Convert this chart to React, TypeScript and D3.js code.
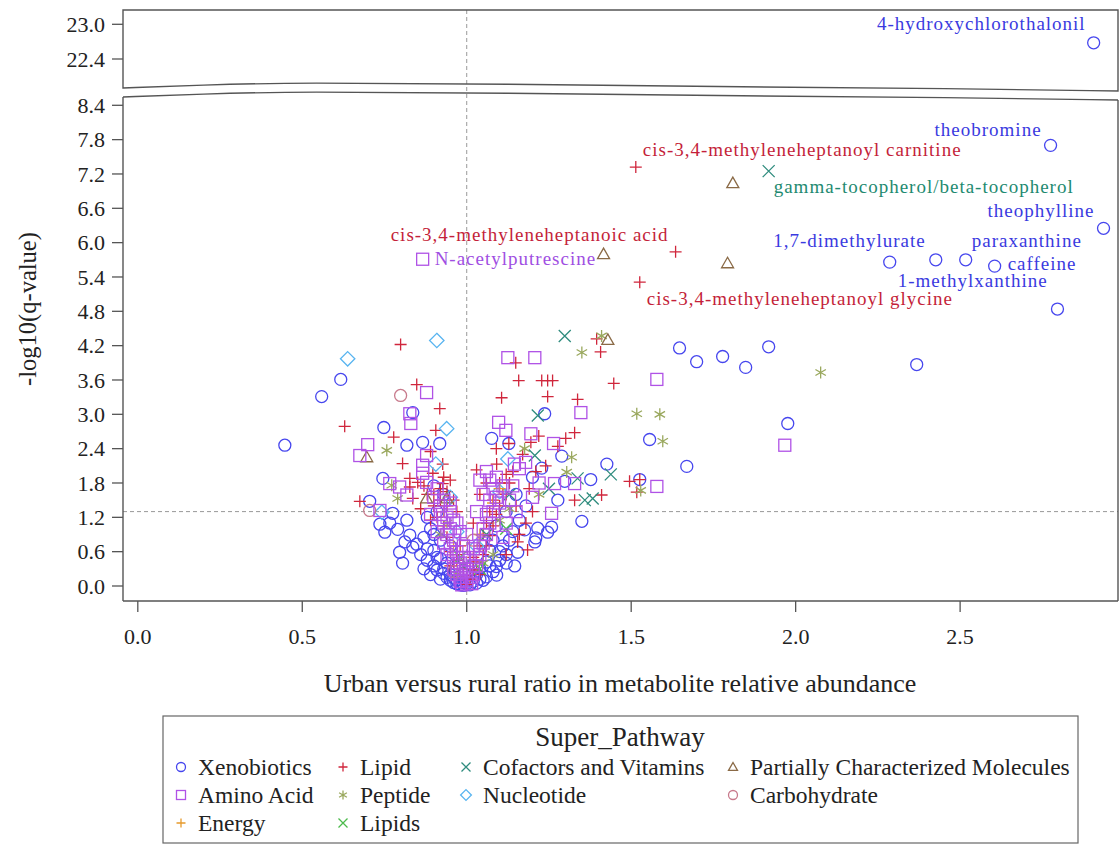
import React from "react";
import * as d3 from "d3";

// ratio (urban / rural), -log10(q)
const xenobiotics: [number, number][] = [
  [2.906, 22.68], [2.775, 7.7], [2.936, 6.25], [2.286, 5.66], [2.426, 5.7], [2.517, 5.7], [2.605, 5.59], [2.796, 4.84],
  [1.647, 4.16], [1.699, 3.92], [1.778, 4.01], [1.848, 3.82], [1.918, 4.18], [2.368, 3.87], [1.976, 2.84], [1.556, 2.56],
  [1.669, 2.09], [1.426, 2.13], [1.526, 1.86], [1.35, 1.13], [1.377, 1.86], [1.298, 1.83], [1.277, 1.5], [1.237, 3.01],
  [1.289, 2.27], [1.228, 2.06], [1.076, 2.58], [1.128, 2.49],
  [0.447, 2.46], [0.559, 3.31], [0.617, 3.61], [0.748, 2.77], [0.836, 3.03], [0.866, 2.51], [0.818, 2.46], [0.918, 2.49],
  [0.745, 1.88], [0.705, 1.48], [0.775, 1.27], [0.818, 1.15], [0.736, 1.08], [0.766, 1.1], [0.751, 0.94], [0.79, 0.99],
  [0.827, 0.89], [0.812, 0.77], [0.848, 0.73], [0.836, 0.68], [0.796, 0.59], [0.805, 0.4],
  [1.258, 1.03], [1.216, 1.01], [1.246, 0.94], [1.21, 0.84], [1.207, 0.77], [1.176, 0.98], [1.155, 0.59], [1.146, 0.35], [1.091, 0.19],
  [0.86, 0.55], [0.88, 0.45], [0.9, 0.35], [0.91, 0.28], [0.93, 0.22], [0.94, 0.15], [0.95, 0.1], [0.96, 0.06], [0.97, 0.04],
  [0.98, 0.02], [0.99, 0.01], [1.01, 0.02], [1.03, 0.05], [1.05, 0.1], [1.06, 0.16], [1.08, 0.25], [1.09, 0.34], [1.1, 0.45],
  [1.12, 0.55], [1.11, 0.7], [1.13, 0.8], [0.87, 0.85], [0.89, 1.0], [0.9, 0.62], [0.92, 0.48], [0.94, 0.4], [0.88, 1.2],
  [0.91, 1.3], [0.92, 0.8], [1.07, 0.62], [1.14, 0.95], [1.16, 1.15], [1.09, 1.05], [1.18, 1.4], [1.12, 1.3], [0.87, 0.3],
  [0.89, 0.2], [0.92, 0.12], [1.04, 0.3], [1.06, 0.42], [1.15, 1.6], [1.2, 1.9], [0.93, 1.6], [0.9, 1.75], [0.95, 0.7], [1.08, 0.8],
  [0.93, 0.3], [0.95, 0.2], [0.96, 0.15], [0.97, 0.1], [1.02, 0.08], [1.04, 0.12], [1.03, 0.2], [0.91, 0.5], [0.9, 0.9],
  [0.88, 0.65], [1.1, 0.6], [1.12, 0.4], [1.07, 0.35], [0.985, 0.06], [1.0, 0.04],
];

const aminoAcid: [number, number][] = [
  [0.866, 5.71],
  [1.125, 3.99], [1.207, 3.99], [1.578, 3.61], [1.347, 3.03], [1.097, 2.86], [1.119, 2.72], [1.195, 2.66], [1.264, 2.49],
  [1.967, 2.46], [1.578, 1.74], [1.267, 1.79], [1.328, 1.79], [1.258, 1.27], [1.145, 2.13], [1.179, 2.16],
  [0.878, 3.38], [0.827, 3.01], [0.83, 2.84], [0.699, 2.47], [0.675, 2.28], [0.878, 2.28], [0.866, 2.11], [0.766, 1.79],
  [0.796, 1.73], [0.878, 1.81], [0.866, 1.97], [0.818, 1.59], [0.736, 1.32],
  [0.9, 1.55], [0.92, 1.4], [0.94, 1.2], [0.95, 1.0], [0.96, 0.8], [0.97, 0.6], [0.98, 0.4], [0.99, 0.25], [1.0, 0.1],
  [1.0, 0.05], [0.98, 0.15], [0.96, 0.3], [0.94, 0.55], [0.93, 0.75], [0.91, 0.95], [0.89, 1.25], [1.02, 0.2], [1.03, 0.35],
  [1.04, 0.55], [1.05, 0.75], [1.05, 1.0], [1.06, 1.25], [1.07, 1.5], [1.08, 1.7], [1.09, 1.9], [1.04, 1.85], [1.06, 2.0],
  [1.1, 1.45], [1.12, 1.1], [1.02, 0.65], [1.01, 0.45], [1.14, 1.75], [1.16, 2.05], [1.0, 0.9], [0.97, 1.1], [0.95, 1.45],
  [1.03, 1.3], [1.11, 0.85], [1.2, 1.55], [1.22, 1.8],
  [0.97, 0.2], [0.98, 0.08], [1.01, 0.15], [1.02, 0.35], [0.99, 0.5], [0.97, 0.35], [0.96, 0.5], [0.95, 0.65], [0.94, 0.9],
  [0.93, 1.1], [0.92, 1.25], [1.03, 0.5], [1.04, 0.7], [1.06, 0.9], [1.07, 1.1], [1.08, 1.3], [1.09, 1.55], [1.11, 1.75],
  [0.99, 0.7], [1.0, 0.3], [0.985, 0.02], [1.015, 0.04],
  [0.91, 1.7], [0.93, 1.5], [0.95, 1.3], [0.96, 1.15], [0.98, 0.95], [1.05, 1.6], [1.07, 1.85], [1.13, 1.5], [1.15, 1.3],
];

const energy: [number, number][] = [
  [0.96, 0.7], [1.04, 0.9], [1.08, 1.45], [0.93, 1.3], [1.1, 1.7],
];

const lipid: [number, number][] = [
  [1.514, 7.32], [1.635, 5.84], [1.526, 5.31],
  [0.799, 4.22], [0.848, 3.52], [0.918, 3.1], [0.629, 2.79], [0.906, 2.72], [0.778, 2.6], [0.805, 2.14], [0.927, 2.13],
  [0.827, 1.88], [0.827, 1.73], [0.851, 1.81], [0.897, 1.97], [0.927, 1.79], [0.675, 1.48], [0.836, 1.53],
  [1.395, 4.32], [1.407, 4.09], [1.149, 3.9], [1.158, 3.59], [1.228, 3.59], [1.246, 3.59], [1.261, 3.59], [1.447, 3.54],
  [1.106, 3.29], [1.246, 3.31], [1.337, 3.26], [1.328, 2.68], [1.128, 2.49], [1.219, 2.62], [1.195, 2.51], [1.301, 2.58],
  [1.277, 2.44], [1.091, 2.13], [1.495, 1.83], [1.526, 1.86], [1.517, 1.64], [1.41, 1.59], [1.328, 1.5], [1.185, 0.63], [1.155, 0.77],
  [0.88, 1.6], [0.9, 1.4], [0.91, 1.2], [0.93, 1.05], [0.94, 0.85], [0.95, 0.6], [0.97, 0.45], [0.98, 0.3], [0.99, 0.18],
  [1.0, 0.03], [1.01, 0.12], [1.02, 0.28], [1.03, 0.42], [1.05, 0.55], [1.06, 0.7], [1.07, 0.88], [1.08, 1.05], [1.09, 1.25],
  [1.1, 1.4], [1.11, 1.6], [1.13, 1.8], [1.14, 2.0], [1.06, 1.8], [1.04, 1.6], [1.03, 2.03], [1.12, 0.55], [1.16, 0.9],
  [1.18, 1.1], [1.2, 1.3], [0.86, 1.35], [0.92, 1.7], [0.95, 1.85], [0.96, 1.5], [1.02, 1.1], [1.15, 1.4], [1.24, 2.1],
  [1.09, 2.4], [0.89, 2.35], [0.95, 0.35], [1.04, 0.2], [1.17, 2.3],
  [0.96, 0.4], [0.97, 0.55], [0.98, 0.7], [0.99, 0.4], [1.01, 0.3], [1.02, 0.5], [1.04, 0.7], [1.05, 0.9], [1.06, 1.1],
  [1.08, 1.5], [1.1, 1.8], [1.12, 1.6], [0.92, 1.5], [0.94, 1.4], [0.9, 1.6], [0.93, 1.9], [1.0, 0.15],
  [0.87, 1.75], [0.89, 1.15], [0.94, 1.65], [0.97, 1.3], [1.07, 1.3], [1.12, 1.95], [1.19, 1.7], [1.21, 2.0],
];

const peptide: [number, number][] = [
  [1.41, 4.37], [1.35, 4.08], [1.517, 3.01], [1.587, 3.0], [1.596, 2.53], [2.076, 3.73], [1.529, 1.67], [0.757, 2.37],
  [0.772, 1.76], [0.79, 1.53], [1.176, 2.4], [1.319, 2.25], [1.304, 1.99], [1.22, 1.6], [1.1, 1.15], [0.92, 0.9],
  [1.05, 0.4], [0.97, 0.2], [1.13, 1.35], [1.08, 0.55], [0.94, 1.1],
];

const lipids: [number, number][] = [
  [1.04, 0.3], [0.98, 0.5], [1.12, 1.0],
];

const cofactors: [number, number][] = [
  [1.918, 7.25], [1.298, 4.37], [1.216, 2.98], [1.207, 2.28], [1.438, 1.95], [1.337, 1.88], [1.359, 1.5], [1.383, 1.53],
  [1.25, 1.7], [1.13, 1.6], [0.99, 0.35], [1.06, 0.9],
];

const nucleotide: [number, number][] = [
  [0.909, 4.29], [0.638, 3.97], [0.939, 2.75], [0.906, 2.13], [1.125, 2.22], [0.742, 1.29], [1.1, 1.65], [0.95, 1.55],
  [1.03, 0.7], [0.97, 0.95],
];

const partial: [number, number][] = [
  [1.809, 7.04], [1.793, 5.64], [1.416, 5.8], [1.429, 4.3], [0.696, 2.25], [0.878, 1.53], [0.939, 1.53],
];

const carbohydrate: [number, number][] = [
  [0.799, 3.33], [0.705, 1.32], [1.02, 0.8], [0.96, 0.25],
];

const labels = [
  { text: "4-hydroxychlorothalonil", group: "Xenobiotics", x: 2.906, y: 22.68 },
  { text: "theobromine", group: "Xenobiotics", x: 2.775, y: 7.7 },
  { text: "theophylline", group: "Xenobiotics", x: 2.936, y: 6.25 },
  { text: "1,7-dimethylurate", group: "Xenobiotics", x: 2.426, y: 5.7 },
  { text: "paraxanthine", group: "Xenobiotics", x: 2.517, y: 5.7 },
  { text: "caffeine", group: "Xenobiotics", x: 2.605, y: 5.59 },
  { text: "1-methylxanthine", group: "Xenobiotics", x: 2.286, y: 5.66 },
  { text: "cis-3,4-methyleneheptanoyl carnitine", group: "Lipid", x: 1.514, y: 7.32 },
  { text: "gamma-tocopherol/beta-tocopherol", group: "Cofactors and Vitamins", x: 1.918, y: 7.25 },
  { text: "cis-3,4-methyleneheptanoic acid", group: "Lipid", x: 1.635, y: 5.84 },
  { text: "N-acetylputrescine", group: "Amino Acid", x: 0.866, y: 5.71 },
  { text: "cis-3,4-methyleneheptanoyl glycine", group: "Lipid", x: 1.526, y: 5.31 },
];

const xTicks = [0, 0.5, 1, 1.5, 2, 2.5];
const yTicksLow = [0, 0.6, 1.2, 1.8, 2.4, 3.0, 3.6, 4.2, 4.8, 5.4, 6.0, 6.6, 7.2, 7.8, 8.4];
const yTicksHigh = [22.4, 23.0];

type Shape = "circle" | "square" | "plus" | "star" | "x" | "diamond" | "triangle";

const groups: { name: string; data: [number, number][]; shape: Shape; color: string; labelColor: string }[] = [
  { name: "Xenobiotics", data: xenobiotics, shape: "circle", color: "#4646ee", labelColor: "#3a3ae0" },
  { name: "Lipid", data: lipid, shape: "plus", color: "#d0263c", labelColor: "#c41f3a" },
  { name: "Peptide", data: peptide, shape: "star", color: "#9aa85e", labelColor: "#9aa85e" },
  { name: "Cofactors and Vitamins", data: cofactors, shape: "x", color: "#2f8c7e", labelColor: "#1e8a70" },
  { name: "Nucleotide", data: nucleotide, shape: "diamond", color: "#58b4f0", labelColor: "#58b4f0" },
  { name: "Lipids", data: lipids, shape: "x", color: "#4cbb4c", labelColor: "#4cbb4c" },
  { name: "Energy", data: energy, shape: "plus", color: "#e69a2c", labelColor: "#e69a2c" },
  { name: "Partially Characterized Molecules", data: partial, shape: "triangle", color: "#8a6a46", labelColor: "#8a6a46" },
  { name: "Carbohydrate", data: carbohydrate, shape: "circle", color: "#c87a8c", labelColor: "#c87a8c" },
  { name: "Amino Acid", data: aminoAcid, shape: "square", color: "#b052e6", labelColor: "#a04ee2" },
];

// legend layout: [group name, column, row]
const legendOrder: [string, number, number][] = [
  ["Xenobiotics", 0, 0], ["Amino Acid", 0, 1], ["Energy", 0, 2],
  ["Lipid", 1, 0], ["Peptide", 1, 1], ["Lipids", 1, 2],
  ["Cofactors and Vitamins", 2, 0], ["Nucleotide", 2, 1],
  ["Partially Characterized Molecules", 3, 0], ["Carbohydrate", 3, 1],
];

function Marker({ shape, color, x, y, s = 6 }: { shape: Shape; color: string; x: number; y: number; s?: number }) {
  const common = { fill: "none", stroke: color, strokeWidth: 1.3 };
  const t = `translate(${x},${y})`;
  switch (shape) {
    case "circle":
      return <circle cx={x} cy={y} r={s} {...common} />;
    case "square":
      return <rect x={x - s} y={y - s} width={s * 2} height={s * 2} {...common} />;
    case "plus":
      return <path transform={t} d={`M${-s},0H${s}M0,${-s}V${s}`} {...common} />;
    case "x":
      return <path transform={t} d={`M${-s},${-s}L${s},${s}M${-s},${s}L${s},${-s}`} {...common} />;
    case "star": {
      const a = s * 0.87, b = s * 0.5;
      return <path transform={t} d={`M0,${-s}V${s}M${-a},${-b}L${a},${b}M${-a},${b}L${a},${-b}`} {...common} />;
    }
    case "diamond":
      return <path transform={t} d={`M0,${-s * 1.2}L${s * 1.2},0L0,${s * 1.2}L${-s * 1.2},0Z`} {...common} />;
    case "triangle":
      return <path transform={t} d={`M0,${-s}L${s},${s * 0.75}H${-s}Z`} {...common} />;
  }
  return null;
}

const labelPlace: Record<string, [number, number, "start" | "end"]> = {
  "4-hydroxychlorothalonil": [-8, -13, "end"],
  theobromine: [-9, -9, "end"],
  theophylline: [-9, -11, "end"],
  "1,7-dimethylurate": [-10, -13, "end"],
  paraxanthine: [6, -13, "start"],
  caffeine: [13, 4, "start"],
  "1-methylxanthine": [8, 25, "start"],
  "cis-3,4-methyleneheptanoyl carnitine": [7, -11, "start"],
  "gamma-tocopherol/beta-tocopherol": [5, 22, "start"],
  "cis-3,4-methyleneheptanoic acid": [-7, -11, "end"],
  "N-acetylputrescine": [12, 6, "start"],
  "cis-3,4-methyleneheptanoyl glycine": [7, 23, "start"],
};

export default function App() {
  const font = "Liberation Serif, Times New Roman, serif";
  const left = 123, right = 1118;
  const top = 10, bottom = 601;

  const x = d3.scaleLinear().domain([-0.045, 2.98]).range([left, right]);
  const yLow = d3.scaleLinear().domain([0, 8.4]).range([586, 105.3]);
  const yHigh = d3.scaleLinear().domain([22.4, 23.0]).range([59, 24.3]);
  const yPos = (v: number) => (v > 15 ? yHigh(v) : yLow(v));

  // wavy axis break
  const wave = d3.line().curve(d3.curveBasis);
  const breakPts: [number, number][] = [[left, 88], [200, 85], [300, 82.5], [500, 84], [750, 87], [950, 88.5], [right, 91]];
  const upperBreak = wave(breakPts) as string;
  const lowerBreak = wave(breakPts.map(([a, b]) => [a, b + 9])) as string;

  const groupMap = new Map(groups.map((g) => [g.name, g]));
  const colX = [181, 343, 466, 733];
  const rowY = [767, 795, 823];
  const ink = "#222";

  return (
    <svg width={1120} height={854} style={{ position: "absolute", left: 0, top: 0, background: "#fff", fontFamily: font }}>
      <defs>
        <clipPath id="plotclip">
          <rect x={left} y={top} width={right - left} height={bottom - top} />
        </clipPath>
      </defs>

      {/* reference lines */}
      <line x1={x(1)} x2={x(1)} y1={top} y2={bottom} stroke="#999" strokeDasharray="4,3" strokeWidth={1} />
      <line x1={left} x2={right} y1={yLow(1.3)} y2={yLow(1.3)} stroke="#999" strokeDasharray="4,3" strokeWidth={1} />

      {/* points */}
      <g clipPath="url(#plotclip)">
        {groups.map((g) =>
          g.data.map((d, i) => <Marker key={g.name + i} shape={g.shape} color={g.color} x={x(d[0])} y={yPos(d[1])} />)
        )}
      </g>

      {/* point labels */}
      {labels.map((l) => {
        const [dx, dy, anchor] = labelPlace[l.text];
        return (
          <text key={l.text} x={x(l.x) + dx} y={yPos(l.y) + dy} textAnchor={anchor} fontSize={19} letterSpacing={1}
            style={{ fontFamily: font }} fill={groupMap.get(l.group)!.labelColor}>
            {l.text}
          </text>
        );
      })}

      {/* frame with break */}
      <path d={`${upperBreak}V${top}H${left}Z`} fill="none" stroke="#555" strokeWidth={1.4} />
      <path d={lowerBreak} fill="none" stroke="#555" strokeWidth={1.4} />
      <line x1={left} x2={left} y1={97} y2={bottom} stroke="#555" strokeWidth={1.4} />
      <line x1={right} x2={right} y1={100} y2={bottom} stroke="#555" strokeWidth={1.4} />
      <line x1={left} x2={right} y1={bottom} y2={bottom} stroke="#555" strokeWidth={1.4} />

      {/* y ticks */}
      {yTicksLow.map((t) => (
        <g key={"yl" + t}>
          <line x1={left - 11} x2={left} y1={yLow(t)} y2={yLow(t)} stroke="#555" strokeWidth={1.3} />
          <text x={left - 18} y={yLow(t)} dy="0.35em" textAnchor="end" fontSize={22} fill={ink} style={{ fontFamily: font }}>{t.toFixed(1)}</text>
        </g>
      ))}
      {yTicksHigh.map((t) => (
        <g key={"yh" + t}>
          <line x1={left - 11} x2={left} y1={yHigh(t)} y2={yHigh(t)} stroke="#555" strokeWidth={1.3} />
          <text x={left - 18} y={yHigh(t)} dy="0.35em" textAnchor="end" fontSize={22} fill={ink} style={{ fontFamily: font }}>{t.toFixed(1)}</text>
        </g>
      ))}

      {/* x ticks */}
      {xTicks.map((t) => (
        <g key={"x" + t}>
          <line x1={x(t)} x2={x(t)} y1={bottom} y2={bottom + 11} stroke="#555" strokeWidth={1.3} />
          <text x={x(t)} y={bottom + 43} textAnchor="middle" fontSize={22} fill={ink} style={{ fontFamily: font }}>{t.toFixed(1)}</text>
        </g>
      ))}

      <text x={620} y={692} textAnchor="middle" fontSize={26} fill={ink} style={{ fontFamily: font }}>
        Urban versus rural ratio in metabolite relative abundance
      </text>
      <text transform={`translate(36,309) rotate(-90)`} textAnchor="middle" fontSize={24.5} fill={ink} style={{ fontFamily: font }}>
        -log10(q-value)
      </text>

      {/* legend */}
      <rect x={163} y={716} width={915} height={127} fill="none" stroke="#666" strokeWidth={1.2} />
      <text x={620} y={746} textAnchor="middle" fontSize={27} fill={ink} style={{ fontFamily: font }}>Super_Pathway</text>
      {legendOrder.map(([name, c, r]) => {
        const g = groupMap.get(name)!;
        return (
          <g key={name}>
            <Marker shape={g.shape} color={g.color} x={colX[c]} y={rowY[r]} s={4.5} />
            <text x={colX[c] + 17} y={rowY[r] + 8} fontSize={23.5} fill={ink} style={{ fontFamily: font }}>{name}</text>
          </g>
        );
      })}
    </svg>
  );
}
